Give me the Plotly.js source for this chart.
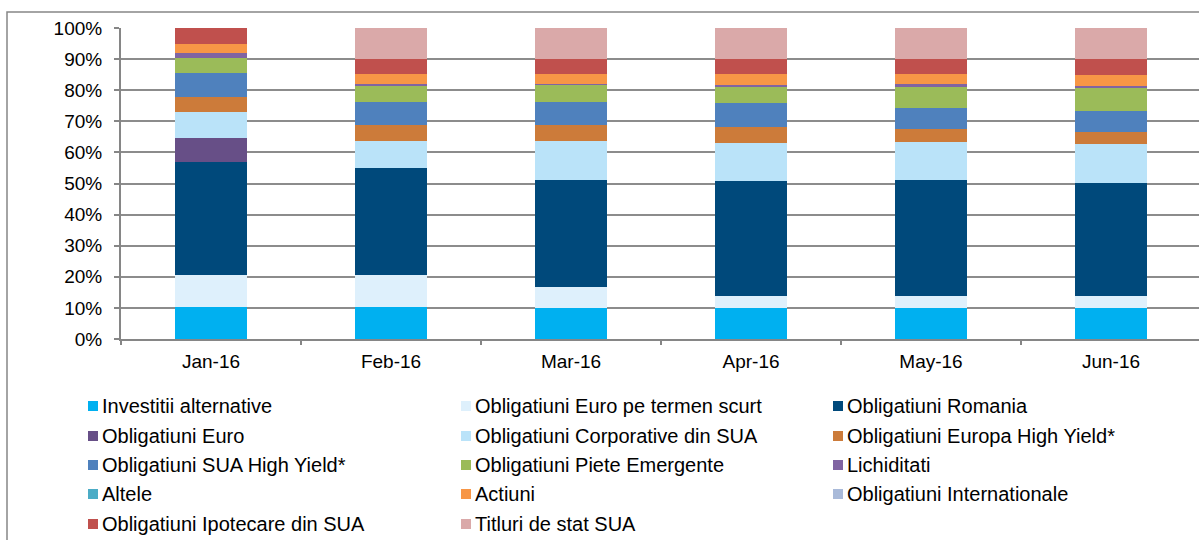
<!DOCTYPE html>
<html>
<head>
<meta charset="utf-8">
<script src="https://cdn.plot.ly/plotly-3.0.1.min.js"></script>
<style>
html,body{margin:0;padding:0;background:#fff;overflow:hidden;}
#chart{width:1199px;height:540px;}
</style>
</head>
<body>
<div id="chart"></div>
<script>
const months = ["Jan-16", "Feb-16", "Mar-16", "Apr-16", "May-16", "Jun-16"];

const seriesNames = [
  "Investitii alternative",
  "Obligatiuni Euro pe termen scurt",
  "Obligatiuni Romania",
  "Obligatiuni Euro",
  "Obligatiuni Corporative din SUA",
  "Obligatiuni Europa High Yield*",
  "Obligatiuni SUA High Yield*",
  "Obligatiuni Piete Emergente",
  "Lichiditati",
  "Altele",
  "Actiuni",
  "Obligatiuni Internationale",
  "Obligatiuni Ipotecare din SUA",
  "Titluri de stat SUA"
];

// values in percent, one array per series (Jan..Jun)
const investitiiAlternative = [10.2, 10.2, 10.0, 9.9, 9.9, 9.9];
const euroTermenScurt      = [10.3, 10.3, 6.6, 3.9, 4.0, 4.0];
const romania              = [36.5, 34.6, 34.4, 37.0, 37.2, 36.4];
const euro                 = [7.6, 0, 0, 0, 0, 0];
const corporativeSUA       = [8.4, 8.6, 12.8, 12.3, 12.3, 12.5];
const europaHighYield      = [4.9, 5.0, 5.0, 5.2, 4.1, 3.9];
const suaHighYield         = [7.6, 7.5, 7.5, 7.6, 6.7, 6.6];
const pieteEmergente       = [5.0, 5.2, 5.4, 5.0, 6.9, 7.4];
const lichiditati          = [1.4, 0.5, 0.4, 0.9, 0.8, 0.8];
const altele               = [0, 0, 0, 0, 0, 0];
const actiuni              = [2.9, 3.3, 3.2, 3.4, 3.4, 3.4];
const internationale       = [0, 0, 0, 0, 0, 0];
const ipotecareSUA         = [5.2, 4.9, 4.8, 4.9, 4.8, 5.0];
const titluriStatSUA       = [0, 9.9, 9.9, 9.9, 9.9, 10.1];

const seriesValues = [
  investitiiAlternative, euroTermenScurt, romania, euro, corporativeSUA,
  europaHighYield, suaHighYield, pieteEmergente, lichiditati, altele,
  actiuni, internationale, ipotecareSUA, titluriStatSUA
];

const seriesColors = [
  "#00B0F0", "#DEF0FC", "#00497B", "#674F87", "#BAE3F9",
  "#CC7B3A", "#4F81BD", "#9BBB59", "#8064A2", "#4BACC6",
  "#F79646", "#A9BAD9", "#C0504D", "#DAA9A9"
];

const traces = seriesNames.map((name, i) => ({
  type: "bar",
  name: name,
  x: months,
  y: seriesValues[i],
  marker: {color: seriesColors[i], line: {width: 0}},
  showlegend: false,
  hovertemplate: "%{x}<br>" + name + ": %{y}%<extra></extra>"
}));

// pixel geometry of the plot area
const L = 121, W = 1078, T = 28, H = 311;
const px = v => (v - L) / W;
const py = v => (T + H - v) / H;

// legend layout (3 columns, row-major, like the original)
const legCols = [88, 461, 833];
const legRows = [406, 436, 465, 494, 524];
const legShapes = [];
const legAnnots = [];
seriesNames.forEach((name, i) => {
  const c = i % 3, r = Math.floor(i / 3);
  const x0 = legCols[c], yc = legRows[r];
  legShapes.push({
    type: "rect", xref: "paper", yref: "paper",
    x0: px(x0), x1: px(x0 + 10), y0: py(yc - 5), y1: py(yc + 5),
    fillcolor: seriesColors[i], line: {width: 0}
  });
  legAnnots.push({
    xref: "paper", yref: "paper", x: px(x0 + 12), y: py(yc),
    xanchor: "left", yanchor: "middle", showarrow: false,
    text: name, font: {size: 20, color: "#000"}
  });
});

const layout = {
  width: 1199,
  height: 540,
  barmode: "stack",
  bargap: 0.6,
  margin: {l: L, r: 1199 - L - W, t: T, b: 540 - T - H, pad: 0},
  paper_bgcolor: "#ffffff",
  plot_bgcolor: "#ffffff",
  font: {family: "Liberation Sans, Arial, sans-serif", size: 16, color: "#000000"},
  showlegend: false,
  xaxis: {
    type: "category",
    range: [-0.5, 5.5 - 2/180],
    showgrid: false,
    showline: true, linecolor: "#868686", linewidth: 2,
    ticks: "outside", tickson: "boundaries", ticklen: 4, tickcolor: "#868686", tickwidth: 1.5,
    ticklabelstandoff: 4,
    tickfont: {size: 19},
    automargin: false,
    fixedrange: true
  },
  yaxis: {
    range: [0, 100],
    dtick: 10,
    ticksuffix: "%",
    showgrid: true, gridcolor: "#8C8C8C", gridwidth: 1.5,
    showline: true, linecolor: "#868686", linewidth: 2,
    ticks: "outside", ticklen: 5, tickcolor: "#868686", tickwidth: 1.5,
    ticklabelstandoff: 8,
    tickfont: {size: 19},
    zeroline: false,
    automargin: false,
    fixedrange: true
  },
  shapes: [{
    type: "path", xref: "paper", yref: "paper",
    path: "M " + px(7) + " " + py(560) + " L " + px(7) + " " + py(12) + " L " + px(1210) + " " + py(12),
    line: {color: "#868686", width: 1.5}
  }].concat(legShapes),
  annotations: legAnnots
};

Plotly.newPlot("chart", traces, layout, {displayModeBar: false});
</script>
</body>
</html>
